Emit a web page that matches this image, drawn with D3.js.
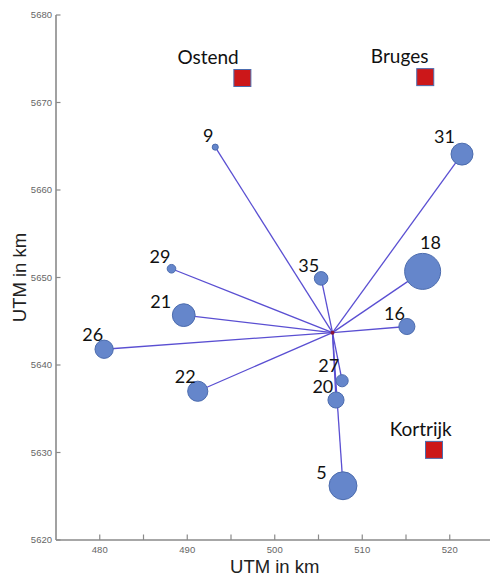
<!DOCTYPE html>
<html>
<head>
<meta charset="utf-8">
<script src="https://cdn.jsdelivr.net/npm/d3@7"></script>
<style>
  html, body { margin: 0; padding: 0; background: #fff; }
  svg { display: block; }
</style>
</head>
<body>
<script>
// Monitoring sites (UTM easting / northing in km) and their relative weight
const siteIds      = [9, 31, 29, 35, 18, 21, 16, 26, 22, 27, 20, 5];
const siteEasting  = [493.2, 521.4, 488.2, 505.3, 516.9, 489.6, 515.1, 480.5, 491.2, 507.7, 507.0, 507.8];
const siteNorthing = [5664.9, 5664.1, 5651.0, 5649.9, 5650.7, 5645.7, 5644.4, 5641.8, 5637.0, 5638.2, 5636.0, 5626.2];
const siteWeight   = [1, 13, 2, 5, 35, 14, 7, 9, 11, 4, 7, 21];

// Central node all sites are linked to
const hubEasting  = 506.6;
const hubNorthing = 5643.7;

// Reference cities
const cityNames    = ["Ostend", "Bruges", "Kortrijk"];
const cityEasting  = [496.3, 517.2, 518.2];
const cityNorthing = [5672.8, 5672.9, 5630.3];

// Axis ticks
const xTicksMajor = [480, 490, 500, 510, 520];
const xTicksMinor = [485, 495, 505, 515];
const yTicks      = [5620, 5630, 5640, 5650, 5660, 5670, 5680];

// Label placement relative to each mark (pixels)
const siteLabelDx = [-1.7, -7, -1, -2, 18.3, -12.6, -2, -1, -2, -3, -2.7, -16.3];
const siteLabelDy = [-5, -11.6, -5.7, -6, -22.7, -7.3, -7, -8.3, -8.4, -8.3, -6.7, -6.6];
const cityLabelDx = [-34.3, -25.6, -13.3];
const cityLabelDy = [-13.7, -13.9, -14];

const W = 490, H = 579;
const svg = d3.select("body").append("svg").attr("width", W).attr("height", H);

const x = d3.scaleLinear().domain([475, 525]).range([56, 493.5]);
const y = d3.scaleLinear().domain([5620, 5680]).range([540, 15]);
const r = d3.scaleSqrt().domain([0, 35]).range([0, 18]);

const sites = siteIds.map((id, i) => ({
  id, e: siteEasting[i], n: siteNorthing[i], w: siteWeight[i],
  dx: siteLabelDx[i], dy: siteLabelDy[i]
}));
const cities = cityNames.map((name, i) => ({
  name, e: cityEasting[i], n: cityNorthing[i], dx: cityLabelDx[i], dy: cityLabelDy[i]
}));

const axisColor = "#8a8a8a";
const tickText = "#666";

// Axes
const xAxis = svg.append("g").attr("transform", `translate(0,${y(5620)})`);
xAxis.append("line").attr("x1", x(475)).attr("x2", W).attr("stroke", axisColor).attr("stroke-width", 1.6);
xAxis.selectAll("line.tick").data(xTicksMajor.concat(xTicksMinor)).join("line")
  .attr("class", "tick")
  .attr("x1", d => x(d)).attr("x2", d => x(d))
  .attr("y1", 0).attr("y2", -5.5)
  .attr("stroke", axisColor).attr("stroke-width", 1.2);
xAxis.selectAll("text").data(xTicksMajor).join("text")
  .attr("x", d => x(d)).attr("y", 12.5)
  .attr("text-anchor", "middle")
  .attr("font-family", "Liberation Sans, Arial, sans-serif")
  .attr("font-size", 9.5).attr("fill", tickText)
  .text(d => d);

const yAxis = svg.append("g").attr("transform", `translate(${x(475)},0)`);
yAxis.append("line").attr("y1", y(5620)).attr("y2", y(5680)).attr("stroke", axisColor).attr("stroke-width", 1.6);
yAxis.selectAll("line.tick").data(yTicks).join("line")
  .attr("class", "tick")
  .attr("y1", d => y(d)).attr("y2", d => y(d))
  .attr("x1", 0).attr("x2", 4.5)
  .attr("stroke", axisColor).attr("stroke-width", 1.2);
yAxis.selectAll("text").data(yTicks).join("text")
  .attr("x", -4).attr("y", d => y(d) + 3.3)
  .attr("text-anchor", "end")
  .attr("font-family", "Liberation Sans, Arial, sans-serif")
  .attr("font-size", 9.5).attr("fill", tickText)
  .text(d => d);

// Axis titles
svg.append("text")
  .attr("x", x(500)).attr("y", 573)
  .attr("text-anchor", "middle")
  .attr("font-family", "Liberation Sans, Arial, sans-serif")
  .attr("font-size", 18.5).attr("fill", "#222")
  .text("UTM in km");
svg.append("text")
  .attr("transform", `translate(26,${(y(5620) + y(5680)) / 2}) rotate(-90)`)
  .attr("text-anchor", "middle")
  .attr("font-family", "Liberation Sans, Arial, sans-serif")
  .attr("font-size", 18.5).attr("fill", "#222")
  .text("UTM in km");

// Links from the hub to each site
svg.append("g").selectAll("line").data(sites).join("line")
  .attr("x1", x(hubEasting)).attr("y1", y(hubNorthing))
  .attr("x2", d => x(d.e)).attr("y2", d => y(d.n))
  .attr("stroke", "#5a4fd2").attr("stroke-width", 1.3);

// Hub marker
svg.append("circle")
  .attr("cx", x(hubEasting)).attr("cy", y(hubNorthing)).attr("r", 2)
  .attr("fill", "#8b1538");

// Site bubbles
svg.append("g").selectAll("circle").data(sites).join("circle")
  .attr("cx", d => x(d.e)).attr("cy", d => y(d.n)).attr("r", d => r(d.w))
  .attr("fill", "#6586cb").attr("stroke", "#4c6cae").attr("stroke-width", 1);

// Site labels
svg.append("g").selectAll("text").data(sites).join("text")
  .attr("x", d => x(d.e) + d.dx).attr("y", d => y(d.n) + d.dy)
  .attr("text-anchor", "end")
  .attr("font-family", "Lato, 'Open Sans', sans-serif")
  .attr("font-size", 18).attr("fill", "#111")
  .text(d => d.id);

// Cities
const sq = 17;
svg.append("g").selectAll("rect").data(cities).join("rect")
  .attr("x", d => x(d.e) - sq / 2).attr("y", d => y(d.n) - sq / 2)
  .attr("width", sq).attr("height", sq)
  .attr("fill", "#cc1719").attr("stroke", "#4c6cae").attr("stroke-width", 1);
svg.append("g").selectAll("text").data(cities).join("text")
  .attr("x", d => x(d.e) + d.dx).attr("y", d => y(d.n) + d.dy)
  .attr("text-anchor", "middle")
  .attr("font-family", "Lato, 'Open Sans', sans-serif")
  .attr("font-size", 19).attr("fill", "#111")
  .text(d => d.name);
</script>
</body>
</html>
